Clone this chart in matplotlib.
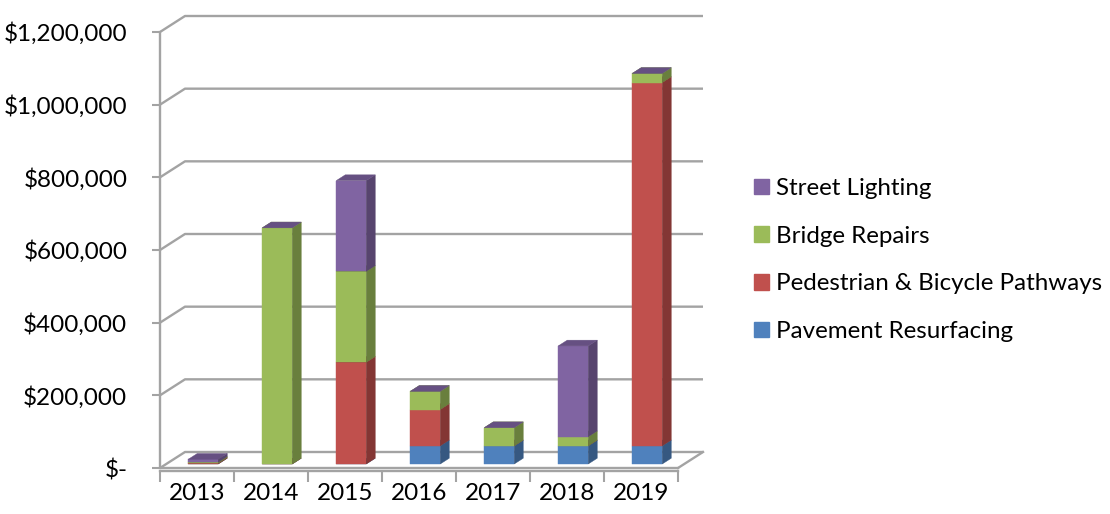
import matplotlib
matplotlib.use("Agg")
import matplotlib.pyplot as plt
from matplotlib.patches import Polygon, Patch
from matplotlib.colors import to_rgb

years = ["2013", "2014", "2015", "2016", "2017", "2018", "2019"]
series_names = ["Pavement Resurfacing", "Pedestrian & Bicycle Pathways",
                "Bridge Repairs", "Street Lighting"]
pavement = [0, 0, 0, 50000, 50000, 50000, 50000]
pathways = [2000, 0, 280000, 100000, 0, 0, 1000000]
bridges = [3000, 650000, 250000, 50000, 50000, 25000, 25000]
lighting = [8000, 0, 250000, 0, 0, 250000, 0]
y_levels = [0, 200000, 400000, 600000, 800000, 1000000, 1200000]
y_labels = ["$-", "$200,000", "$400,000", "$600,000", "$800,000",
            "$1,000,000", "$1,200,000"]

colors = ["#4F81BD", "#C0504D", "#9BBB59", "#8064A2"]
grid_color = "#A3A3A3"

plt.rcParams["font.family"] = ["Lato", "DejaVu Sans"]
fs = 17.5

W, H = 1110, 514
fig = plt.figure(figsize=(W / 100, H / 100), dpi=100)

# pixel frame of the front plane: x 0..7 -> 160..678, y 0..1.2M -> 468..32
px_x0, px_x7 = 160, 678
px_y0, px_ytop = 468, 32
ux = (px_x7 - px_x0) / 7.0
uy = (px_y0 - px_ytop) / 1200000.0
xlim = (0, 7.40)
ylim = (-8000, 1260000)
left = px_x0 + xlim[0] * ux
right = px_x0 + xlim[1] * ux
bottom = px_y0 - ylim[0] * uy
top = px_y0 - ylim[1] * uy
ax = fig.add_axes([left / W, 1 - bottom / H, (right - left) / W, (bottom - top) / H])
ax.set_xlim(*xlim)
ax.set_ylim(*ylim)

# oblique depth offset (back wall relative to front plane)
DX = 25 / ux
DY = 16 / uy

for v in y_levels:
    ax.plot([0, DX, 7 + DX], [v, v + DY, v + DY], color=grid_color, lw=1.7,
            solid_capstyle="butt", zorder=1)
ax.plot([7, 7 + DX], [0, DY], color=grid_color, lw=1.7, zorder=1)
ax.plot([0, 7], [0, 0], color=grid_color, lw=1.7, zorder=1)


def shade(c, f):
    r, g, b = to_rgb(c)
    return (r * f, g * f, b * f)


bar_w = 0.405
d0, d1 = 0.25, 0.61
ddx = (d1 - d0) * DX
ddy = (d1 - d0) * DY
stack = [pavement, pathways, bridges, lighting]
for i in range(len(years)):
    x0 = i + 0.5 - bar_w / 2 + d0 * DX
    x1 = x0 + bar_w
    base = d0 * DY
    for k, vals in enumerate(stack):
        h = vals[i]
        y0, y1 = base, base + h
        c = colors[k]
        if h > 0:
            ax.add_patch(Polygon([(x0, y0), (x1, y0), (x1, y1), (x0, y1)],
                                 closed=True, fc=c, ec=c, lw=0.3, zorder=3))
            ax.add_patch(Polygon([(x1, y0), (x1 + ddx, y0 + ddy),
                                  (x1 + ddx, y1 + ddy), (x1, y1)],
                                 closed=True, fc=shade(c, 0.68), ec=shade(c, 0.68),
                                 lw=0.3, zorder=3))
        ax.add_patch(Polygon([(x0, y1), (x1, y1), (x1 + ddx, y1 + ddy),
                              (x0 + ddx, y1 + ddy)],
                             closed=True, fc=shade(c, 0.8), ec=shade(c, 0.8),
                             lw=0.3, zorder=3))
        base = y1

for s in ["top", "right"]:
    ax.spines[s].set_visible(False)
ax.spines["left"].set_bounds(0, 1200000)
ax.spines["bottom"].set_bounds(0, 7)
for s in ["left", "bottom"]:
    ax.spines[s].set_color(grid_color)
    ax.spines[s].set_linewidth(1.7)

ax.set_yticks(y_levels)
ax.set_yticklabels(y_labels)
ax.tick_params(axis="y", length=5.5, width=1.5, color=grid_color, pad=18,
               labelsize=fs, labelcolor="#000000")
ax.set_xticks(range(8))
ax.set_xticklabels([])
ax.set_xticks([i + 0.5 for i in range(7)], minor=True)
ax.set_xticklabels(years, minor=True)
ax.tick_params(axis="x", which="major", length=8, width=1.5, color=grid_color)
ax.tick_params(axis="x", which="minor", length=0, pad=9, labelsize=fs)

handles = [Patch(color=colors[k], label=series_names[k]) for k in range(3, -1, -1)]
fig.legend(handles=handles, loc="center left",
           bbox_to_anchor=(754 / W, 1 - 260 / H), frameon=False,
           borderpad=0, borderaxespad=0,
           fontsize=17.4, handlelength=0.62, handleheight=0.62,
           handletextpad=0.3, labelspacing=1.1)

fig.savefig("out.png", dpi=100)
